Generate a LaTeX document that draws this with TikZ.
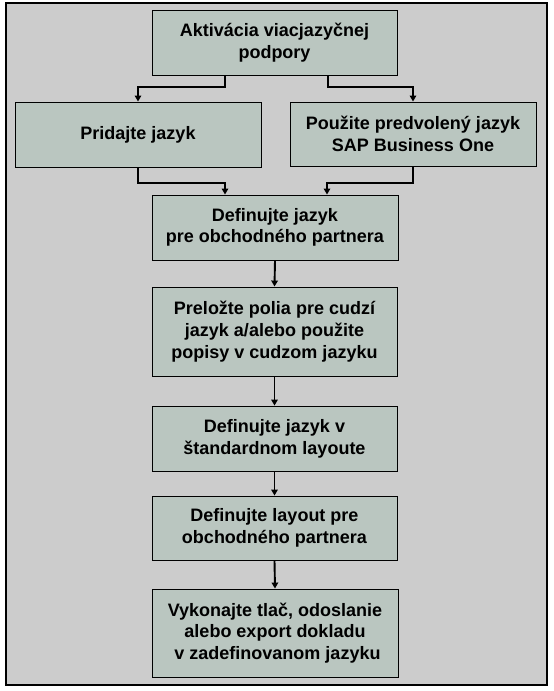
\documentclass[tikz,border=0pt]{standalone}
\usepackage{fontspec}
\setmainfont{Liberation Sans}
\usetikzlibrary{arrows.meta}
\definecolor{bggray}{RGB}{204,204,204}
\definecolor{boxfill}{RGB}{186,198,192}
\tikzset{
  stepbox/.style={draw=black, line width=0.9pt, fill=boxfill, align=center,
    inner sep=0pt, font=\fontsize{18}{21.7}\selectfont\bfseries},
  conn/.style={draw=black, line width=1.9pt,
    -{Triangle[length=6pt,width=6.5pt]}},
}
\begin{document}
\begin{tikzpicture}[x=1pt,y=1pt]
\useasboundingbox (0,0) rectangle (554,691);
\fill[white] (0,0) rectangle (554,691);
\draw[line width=2.6pt, fill=bggray] (6,6) rectangle (547,688);
\node[stepbox, minimum width=245pt, minimum height=65pt] (b1) at (274.5,648.5)
  {Aktivácia viacjazyčnej\\podpory};
\node[stepbox, minimum width=246pt, minimum height=65pt] (b2) at (138,556.5)
  {Pridajte jazyk};
\node[stepbox, minimum width=246pt, minimum height=64pt] (b3) at (413,557)
  {Použite predvolený jazyk\\SAP Business One};
\node[stepbox, minimum width=246pt, minimum height=65pt] (b4) at (275,463.5)
  {Definujte jazyk\hspace{5pt}\\pre obchodného partnera};
\node[stepbox, minimum width=245pt, minimum height=89pt] (b5) at (274.5,359.5)
  {Preložte polia pre cudzí\\jazyk a/alebo použite\\popisy v cudzom jazyku};
\node[stepbox, minimum width=245pt, minimum height=65pt] (b6) at (274.5,252.5)
  {Definujte jazyk v\\štandardnom layoute};
\node[stepbox, minimum width=245pt, minimum height=64pt] (b7) at (274.5,163)
  {Definujte layout pre\\obchodného partnera};
\node[stepbox, minimum width=246pt, minimum height=88pt] (b8) at (275,58)
  {Vykonajte tlač, odoslanie\\alebo export dokladu\hspace{5pt}\\\hspace{5pt}v zadefinovanom jazyku};
\draw[conn] ([xshift=-49.5pt]b1.south) -- ++(0,-12) -| (b2.north);
\draw[conn] ([xshift=53.5pt]b1.south) -- ++(0,-12) -| (b3.north);
\draw[conn] (b2.south) -- ++(0,-16) -| ([xshift=-50pt]b4.north);
\draw[conn] (b3.south) -- ++(0,-17) -| ([xshift=52pt]b4.north);
\draw[conn] (b4.south) -- (b5.north);
\draw[conn] (b5.south) -- (b6.north);
\draw[conn] (b6.south) -- (b7.north);
\draw[conn] (b7.south) -- (b8.north);
\end{tikzpicture}
\end{document}
